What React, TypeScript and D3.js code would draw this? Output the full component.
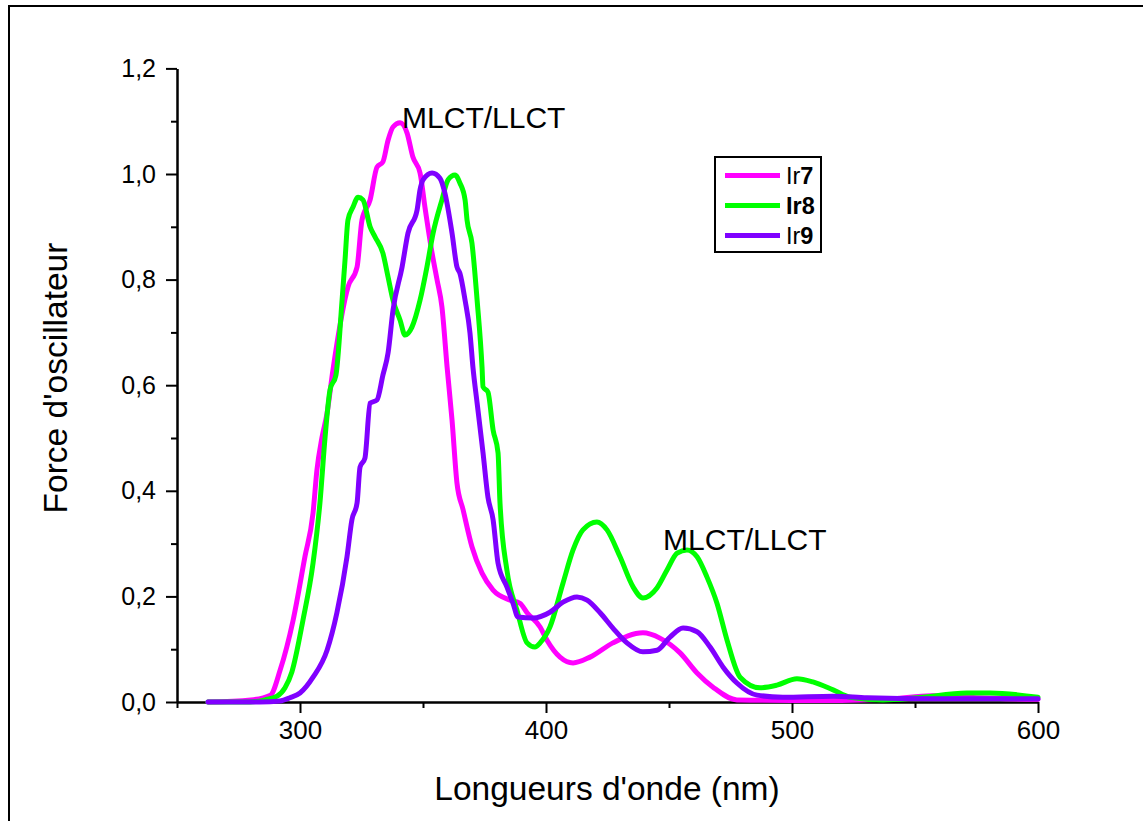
import { useEffect, useRef } from "react";
import * as d3 from "d3";

// Spectra: [wavelength (nm), oscillator strength]
const IR7 = [
  [262.6, 0], [280, 0.004], [288, 0.013], [291.9, 0.06], [297.2, 0.155], [302, 0.275],
  [305.3, 0.358], [306.9, 0.44], [308.9, 0.5], [311, 0.547], [313.4, 0.629], [319.5, 0.786],
  [323.2, 0.824], [325.2, 0.913], [328.5, 0.951], [331.3, 1.013], [333.7, 1.023], [335.8, 1.064],
  [337.8, 1.089], [340.7, 1.097], [343.5, 1.078], [345.9, 1.032], [348.8, 1.002], [350.8, 0.937],
  [353.7, 0.85], [355.7, 0.8], [357.7, 0.748], [359.8, 0.634], [361.8, 0.534], [363.8, 0.415],
  [366.3, 0.364], [369.9, 0.294], [374, 0.244], [378.5, 0.212], [385.4, 0.193], [389.4, 0.187],
  [392.3, 0.169], [397.6, 0.142], [400.4, 0.117], [405.7, 0.085], [411, 0.074], [417.9, 0.085],
  [427.2, 0.112], [439.4, 0.131], [446.3, 0.121], [454.5, 0.093], [461.4, 0.055], [467.9, 0.028],
  [477.6, 0.004], [500, 0.003], [520, 0.003], [540, 0.006], [557, 0.012], [575, 0.008], [600, 0.005],
];

const IR8 = [
  [262.6, 0], [279.7, 0], [285.8, 0.004], [290.7, 0.011], [293.9, 0.027], [296.7, 0.057],
  [301.2, 0.155], [305.3, 0.263], [308.1, 0.377], [310.2, 0.502], [312.2, 0.591], [314.6, 0.619],
  [317.1, 0.761], [318.3, 0.837], [319.5, 0.913], [321.5, 0.937], [323.6, 0.956], [325.6, 0.951],
  [328.5, 0.9], [330.5, 0.881], [333.7, 0.85], [335.8, 0.805], [337.8, 0.761], [340.7, 0.723],
  [342.7, 0.695], [345.5, 0.71], [348.8, 0.761], [351.6, 0.824], [354.1, 0.888], [357.7, 0.951],
  [360.2, 0.989], [363, 0.998], [365, 0.983], [367.1, 0.951], [367.9, 0.913], [369.9, 0.869],
  [372, 0.761], [374, 0.634], [374.4, 0.597], [376.4, 0.587], [378.5, 0.515], [380.5, 0.472],
  [381.3, 0.377], [384.1, 0.25], [388.2, 0.174], [392.3, 0.112], [395.5, 0.104], [397.6, 0.112],
  [401.6, 0.142], [406.9, 0.225], [411, 0.288], [415, 0.326], [420.7, 0.341], [424.8, 0.326],
  [430.1, 0.275], [435.4, 0.218], [439.4, 0.197], [445.1, 0.216], [449.2, 0.25], [453.3, 0.282],
  [457.3, 0.288], [461.4, 0.275], [465.4, 0.237], [469.5, 0.187], [473.6, 0.117], [478.9, 0.047],
  [487, 0.027], [493.9, 0.032], [502, 0.044], [508.5, 0.038], [516.7, 0.023], [523.6, 0.009],
  [537, 0.004], [550.8, 0.008], [571.1, 0.017], [580.5, 0.017], [600, 0.009],
];

const IR9 = [
  [262.6, 0], [283.7, 0], [291.9, 0.002], [295.9, 0.008], [300, 0.017], [305.3, 0.047],
  [311, 0.098], [315, 0.169], [319.1, 0.275], [321.1, 0.345], [323.2, 0.377], [324.4, 0.445],
  [326.4, 0.462], [328.5, 0.566], [331.3, 0.572], [333.7, 0.619], [335.8, 0.661], [337.8, 0.742],
  [341.5, 0.824], [343.9, 0.888], [347.6, 0.932], [348.8, 0.97], [350, 0.989], [353.7, 1.002],
  [356.9, 0.992], [358.9, 0.964], [361.8, 0.888], [363.8, 0.824], [365, 0.812], [367.1, 0.761],
  [369.1, 0.699], [370.3, 0.634], [372, 0.566], [374.4, 0.472], [376.4, 0.388], [378.5, 0.345],
  [380.5, 0.263], [384.1, 0.218], [386.6, 0.187], [388.6, 0.161], [394.7, 0.159], [401.6, 0.17],
  [406.9, 0.189], [412.6, 0.199], [416.7, 0.193], [422, 0.169], [427.2, 0.14], [432.9, 0.112],
  [439.4, 0.095], [445.1, 0.098], [450.4, 0.123], [455.7, 0.14], [461.4, 0.133], [466.7, 0.104],
  [472, 0.066], [477.6, 0.036], [485.8, 0.013], [496.3, 0.009], [516.7, 0.011], [530.5, 0.008],
  [557.3, 0.006], [600, 0.006],
];

const SERIES = [
  { name: "Ir", num: "7", boldName: false, color: "#ff00ff", data: IR7 },
  { name: "Ir", num: "8", boldName: true, color: "#00ff00", data: IR8 },
  { name: "Ir", num: "9", boldName: false, color: "#8000ff", data: IR9 },
];

const X_TICKS = [300, 400, 500, 600];
const X_MINOR = [250, 350, 450, 550];
const Y_TICKS = [0, 0.2, 0.4, 0.6, 0.8, 1.0, 1.2];
const Y_MINOR = [0.1, 0.3, 0.5, 0.7, 0.9, 1.1];

// Band labels: [wavelength, strength] at the text's start/baseline
const ANNOTATIONS = [
  { text: "MLCT/LLCT", at: [341.5, 1.087] },
  { text: "MLCT/LLCT", at: [447.6, 0.288] },
];

const FONT = "'Liberation Sans', Arial, sans-serif";

export default function App() {
  const svgRef = useRef<SVGSVGElement | null>(null);

  useEffect(() => {
    const width = 1143;
    const height = 821;
    const svg = d3.select(svgRef.current);
    svg.selectAll("*").remove();
    svg.attr("width", width).attr("height", height);

    // outer frame (only top/left visible)
    svg.append("rect")
      .attr("x", 9).attr("y", 6)
      .attr("width", 1300).attr("height", 1000)
      .attr("fill", "none")
      .attr("stroke", "#000")
      .attr("stroke-width", 2);

    const xScale = d3.scaleLinear().domain([250, 600]).range([177, 1038]);
    const yScale = d3.scaleLinear().domain([0, 1.2]).range([702, 68.4]);

    const fmtY = (d: number) => d3.format(".1f")(d).replace(".", ",");

    // ----- Axes -----
    const xAxisG = svg.append("g")
      .attr("transform", `translate(0,${yScale(0)})`)
      .call(d3.axisBottom(xScale).tickValues(X_TICKS).tickSize(11).tickSizeOuter(0).tickPadding(8));
    svg.append("g")
      .attr("transform", `translate(0,${yScale(0)})`)
      .call(d3.axisBottom(xScale).tickValues(X_MINOR).tickSize(6).tickSizeOuter(0).tickFormat(() => ""));

    const yAxisG = svg.append("g")
      .attr("transform", `translate(${xScale(250)},0)`)
      .call(d3.axisLeft(yScale).tickValues(Y_TICKS).tickSize(11).tickSizeOuter(0).tickPadding(10)
        .tickFormat((d) => fmtY(d as number)));
    svg.append("g")
      .attr("transform", `translate(${xScale(250)},0)`)
      .call(d3.axisLeft(yScale).tickValues(Y_MINOR).tickSize(6).tickSizeOuter(0).tickFormat(() => ""));

    svg.selectAll(".domain, .tick line")
      .attr("stroke", "#000")
      .attr("stroke-width", 2);
    xAxisG.selectAll("text")
      .attr("font-family", FONT)
      .attr("font-size", 26)
      .attr("fill", "#000");
    yAxisG.selectAll("text")
      .attr("font-family", FONT)
      .attr("font-size", 25)
      .attr("fill", "#000");

    // Axis titles
    svg.append("text")
      .attr("x", 607).attr("y", 800)
      .attr("text-anchor", "middle")
      .attr("font-family", FONT)
      .attr("font-size", 33.5)
      .text("Longueurs d'onde (nm)");

    svg.append("text")
      .attr("transform", "translate(67,378) rotate(-90)")
      .attr("text-anchor", "middle")
      .attr("font-family", FONT)
      .attr("font-size", 33.5)
      .text("Force d'oscillateur");

    // ----- Curves -----
    const line = d3.line<number[]>()
      .x((d) => xScale(d[0]))
      .y((d) => yScale(d[1]))
      .curve(d3.curveMonotoneX);

    SERIES.forEach((s) => {
      svg.append("path")
        .datum(s.data)
        .attr("fill", "none")
        .attr("stroke", s.color)
        .attr("stroke-width", 5)
        .attr("stroke-linejoin", "round")
        .attr("stroke-linecap", "round")
        .attr("d", line);
    });

    // ----- Annotations -----
    ANNOTATIONS.forEach((a) => {
      svg.append("text")
        .attr("x", xScale(a.at[0]))
        .attr("y", yScale(a.at[1]))
        .attr("font-family", FONT)
        .attr("font-size", 30)
        .text(a.text);
    });

    // ----- Legend -----
    const legend = svg.append("g").attr("transform", "translate(715,157)");
    legend.append("rect")
      .attr("width", 106).attr("height", 95)
      .attr("fill", "#fff")
      .attr("stroke", "#000")
      .attr("stroke-width", 2);
    SERIES.forEach((s, i) => {
      const row = legend.append("g").attr("transform", `translate(0,${18.5 + i * 30})`);
      row.append("line")
        .attr("x1", 10).attr("x2", 65)
        .attr("stroke", s.color)
        .attr("stroke-width", 5);
      const t = row.append("text")
        .attr("x", 71).attr("y", 8.5)
        .attr("font-family", FONT)
        .attr("font-size", 23.5);
      t.append("tspan")
        .attr("font-weight", s.boldName ? "bold" : "normal")
        .text(s.name);
      t.append("tspan")
        .attr("font-weight", "bold")
        .text(s.num);
    });
  }, []);

  return (
    <div>
      <svg ref={svgRef} style={{ position: "absolute", left: 0, top: 0, display: "block" }}></svg>
    </div>
  );
}
